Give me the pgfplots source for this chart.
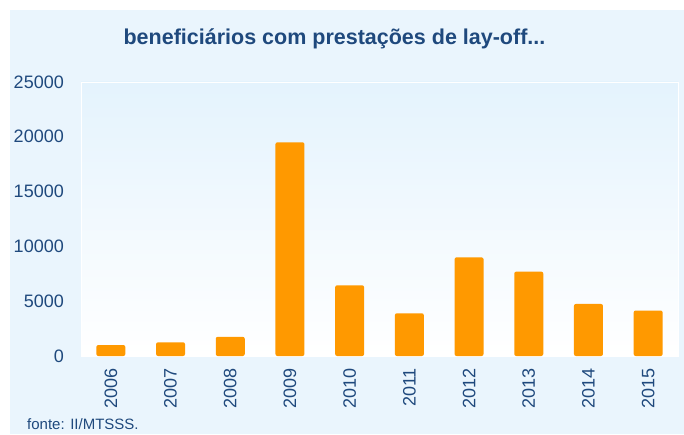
\documentclass[border=0pt]{standalone}
\usepackage{pgfplots}
\pgfplotsset{compat=1.18}
\usepackage{fontspec}
\setmainfont{Liberation Sans}
\definecolor{txtblue}{RGB}{31,73,125}
\definecolor{outerbg}{RGB}{234,245,253}
\definecolor{plottop}{RGB}{228,243,253}
\definecolor{barorange}{RGB}{255,153,0}
\begin{document}
\begin{tikzpicture}[x=1pt,y=1pt]
\useasboundingbox (0,0) rectangle (684,434);
\fill[outerbg] (10,0) rectangle (684,424);
\begin{axis}[
  at={(81pt,78pt)}, anchor=south west,
  scale only axis, width=597pt, height=274pt,
  xmin=-0.5, xmax=9.5, ymin=0, ymax=25000,
  ytick={0,5000,10000,15000,20000,25000},
  xtick={0,1,2,3,4,5,6,7,8,9},
  xticklabels={2006,2007,2008,2009,2010,2011,2012,2013,2014,2015},
  major tick length=0pt,
  axis line style={draw=white, line width=0.8pt},
  axis background/.style={top color=plottop, bottom color=white, middle color=white!50!plottop},
  /pgf/number format/assume math mode=true,
  /pgf/number format/1000 sep={},
  scaled y ticks=false,
  yticklabel style={font=\fontsize{18}{18}\selectfont, text=txtblue, inner sep=0pt, anchor=east},
  yticklabel shift=17pt,
  xticklabel style={font=\fontsize{18}{18}\selectfont, text=txtblue, inner sep=0pt, rotate=90, anchor=east},
  xticklabel shift=12pt,
  ybar, bar width=29pt,
]
\addplot[fill=barorange, draw=none, rounded corners=2pt] coordinates {
  (0,1000) (1,1250) (2,1750) (3,19500) (4,6450) (5,3900) (6,9000) (7,7700) (8,4750) (9,4150)
};
\end{axis}
\node[anchor=base, text=txtblue, font=\fontsize{21.5}{21.5}\selectfont\bfseries] at (334.5,389) {beneficiários com prestações de lay-off...};
\node[anchor=base west, inner sep=0pt, text=txtblue, font=\fontsize{15}{15}\selectfont] at (27,5) {fonte: II/MTSSS.};
\end{tikzpicture}
\end{document}
